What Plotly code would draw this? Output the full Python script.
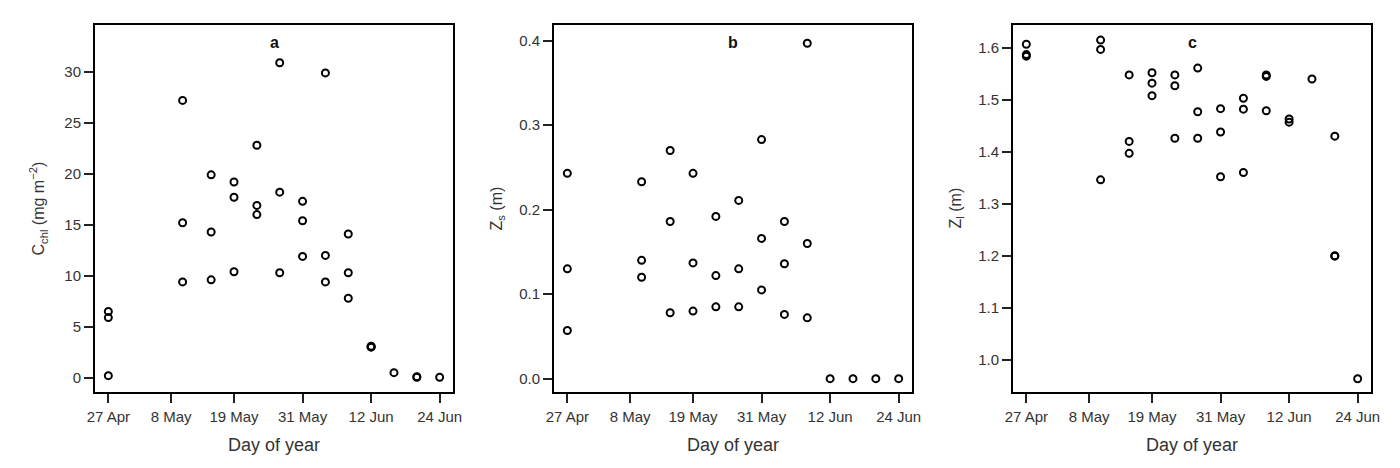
import plotly.graph_objects as go
from plotly.subplots import make_subplots

# sampling dates (one entry per date, values per date below)
sample_dates = ["2011-04-27", "2011-05-10", "2011-05-15", "2011-05-19", "2011-05-23",
                "2011-05-27", "2011-05-31", "2011-06-04", "2011-06-08", "2011-06-12",
                "2011-06-16", "2011-06-20", "2011-06-24"]

chl_values = [[6.5, 5.9, 0.2], [27.2, 15.2, 9.4], [19.9, 14.3, 9.6], [19.2, 17.7, 10.4],
              [22.8, 16.9, 16.0], [30.9, 18.2, 10.3], [17.3, 15.4, 11.9], [29.9, 12.0, 9.4],
              [14.1, 10.3, 7.8], [3.1, 3.0, 3.05], [0.5], [0.1, 0.05], [0.05]]

zs_values = [[0.243, 0.130, 0.057], [0.233, 0.140, 0.120], [0.270, 0.186, 0.078],
             [0.243, 0.137, 0.080], [0.192, 0.122, 0.085], [0.211, 0.130, 0.085],
             [0.283, 0.166, 0.105], [0.186, 0.136, 0.076], [0.397, 0.160, 0.072],
             [0.0], [0.0], [0.0], [0.0]]

zl_values = [[1.607, 1.587, 1.584], [1.615, 1.597, 1.346], [1.548, 1.420, 1.397],
             [1.552, 1.532, 1.508], [1.548, 1.527, 1.426], [1.561, 1.477, 1.426],
             [1.483, 1.438, 1.352], [1.503, 1.482, 1.360], [1.548, 1.545, 1.479],
             [1.463, 1.457], [1.540], [1.430, 1.200, 1.199], [0.963]]

tick_dates = ["2011-04-27", "2011-05-08", "2011-05-19", "2011-05-31", "2011-06-12", "2011-06-24"]
tick_labels = ["27 Apr", "8 May", "19 May", "31 May", "12 Jun", "24 Jun"]

panel_letters = ["a", "b", "c"]
y_titles = ["C<sub>chl</sub> (mg m<sup>\u22122</sup>)", "Z<sub>s</sub> (m)", "Z<sub>l</sub> (m)"]
y_ranges = [[-1.4, 34.6], [-0.0158, 0.4186], [0.9376, 1.644]]
y_ticks = [[0, 5, 10, 15, 20, 25, 30], [0.0, 0.1, 0.2, 0.3, 0.4],
           [1.0, 1.1, 1.2, 1.3, 1.4, 1.5, 1.6]]
y_formats = ["d", ".1f", ".1f"]


def flatten(dates, values):
    xs, ys = [], []
    for d, vals in zip(dates, values):
        for v in vals:
            xs.append(d)
            ys.append(v)
    return xs, ys


# the page body has an 8px margin, so the figure is 8px smaller and shifted
OFF = 8
W, H = 1400 - OFF, 468 - OFF


def px(x):
    return (x - OFF) / W


def py(y):
    return 1 - (y - OFF) / H


x_domains = [[px(95), px(453)], [px(554), px(912)], [px(1013), px(1371)]]
y_domain = [py(392), py(25)]
FONT = "Liberation Sans, Arial, sans-serif"

fig = make_subplots(rows=1, cols=3)

for i, vals in enumerate([chl_values, zs_values, zl_values]):
    xs, ys = flatten(sample_dates, vals)
    fig.add_trace(
        go.Scatter(
            x=xs, y=ys, mode="markers",
            marker=dict(symbol="circle-open", size=7, color="black",
                        line=dict(width=2, color="black")),
            showlegend=False,
        ),
        row=1, col=i + 1,
    )
    fig.update_xaxes(
        domain=x_domains[i], range=["2011-04-24 16:00", "2011-06-26 08:00"],
        tickvals=tick_dates, ticktext=tick_labels, tickangle=0, automargin=False,
        showline=True, mirror=True, linecolor="black", linewidth=2,
        ticks="outside", ticklen=9, tickwidth=1.5, tickcolor="#222",
        showgrid=False, zeroline=False, ticklabelstandoff=1,
        tickfont=dict(size=15, color="#333", family=FONT),
        row=1, col=i + 1,
    )
    fig.update_yaxes(
        domain=y_domain, range=y_ranges[i], tickvals=y_ticks[i], tickformat=y_formats[i],
        automargin=False,
        showline=True, mirror=True, linecolor="black", linewidth=2,
        ticks="outside", ticklen=9, tickwidth=1.5, tickcolor="#222",
        showgrid=False, zeroline=False,
        tickfont=dict(size=15, color="#333", family=FONT),
        row=1, col=i + 1,
    )
    x_mid = (x_domains[i][0] + x_domains[i][1]) / 2
    fig.add_annotation(
        text="<b>%s</b>" % panel_letters[i], xref="paper", yref="paper",
        x=x_mid, y=py(42), xanchor="center", yanchor="middle", showarrow=False,
        font=dict(size=16, color="#111", family=FONT),
    )
    fig.add_annotation(
        text="Day of year", xref="paper", yref="paper",
        x=x_mid, y=py(445), xanchor="center", yanchor="middle", showarrow=False,
        font=dict(size=18, color="#333", family=FONT),
    )
    fig.add_annotation(
        text=y_titles[i], xref="paper", yref="paper", textangle=-90,
        x=x_domains[i][0] - 57 / W, y=(y_domain[0] + y_domain[1]) / 2,
        xanchor="center", yanchor="middle", showarrow=False,
        font=dict(size=16, color="#333", family=FONT),
    )

fig.update_layout(
    width=W, height=H, margin=dict(l=0, r=0, t=0, b=0),
    plot_bgcolor="white", paper_bgcolor="white",
    font=dict(family=FONT),
)

fig.write_html("out.html")
